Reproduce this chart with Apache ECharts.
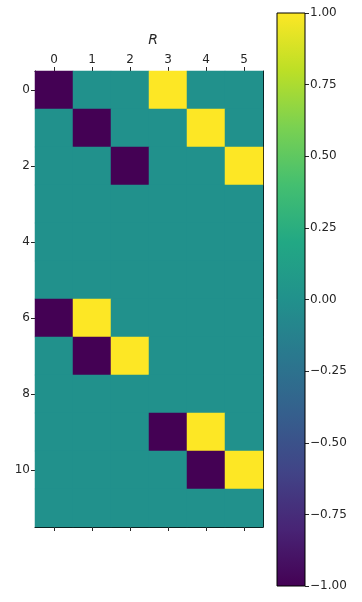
<!DOCTYPE html>
<html>
<head>
<meta charset="utf-8">
<script src="https://cdn.jsdelivr.net/npm/echarts@6/dist/echarts.min.js"></script>
<style>html,body{margin:0;padding:0;background:#fff;}#c{width:362px;height:602px;}</style>
</head>
<body>
<div id="c"></div>
<script>
// ---- data ----
const colLabels = ['0', '1', '2', '3', '4', '5'];
const rowLabels = ['0', '1', '2', '3', '4', '5', '6', '7', '8', '9', '10', '11'];
const matrixR = [
  [-1, 0, 0, 1, 0, 0],
  [0, -1, 0, 0, 1, 0],
  [0, 0, -1, 0, 0, 1],
  [0, 0, 0, 0, 0, 0],
  [0, 0, 0, 0, 0, 0],
  [0, 0, 0, 0, 0, 0],
  [-1, 1, 0, 0, 0, 0],
  [0, -1, 1, 0, 0, 0],
  [0, 0, 0, 0, 0, 0],
  [0, 0, 0, -1, 1, 0],
  [0, 0, 0, 0, -1, 1],
  [0, 0, 0, 0, 0, 0]
];
const colorbarRange = [-1, 1];
const colorbarTicks = [-1.00, -0.75, -0.50, -0.25, 0.00, 0.25, 0.50, 0.75, 1.00];
const viridis = ['#440154','#482475','#414487','#355f8d','#2a788e','#21918c','#22a884','#44bf70','#7ad151','#bddf26','#fde725'];

// ---- build ----
const cells = [];
matrixR.forEach((row, r) => row.forEach((v, c) => cells.push([c, r, v])));
const font = 'DejaVu Sans';
const txt = '#262626';
const axLine = {show: true, lineStyle: {color: '#000', width: 1}};
const fmtTick = v => v.toFixed(2).replace('-', '\u2212');

const chart = echarts.init(document.getElementById('c'), null, {renderer: 'canvas'});
chart.setOption({
  animation: false,
  backgroundColor: '#fff',
  textStyle: {fontFamily: font},
  title: {
    text: 'R', left: 148, top: 28, textAlign: 'center',
    textStyle: {fontFamily: font, fontStyle: 'italic', fontWeight: 'normal', fontSize: 14, color: txt}
  },
  grid: [
    {left: 35, top: 71, width: 228, height: 456},
    {left: 277, top: 13, width: 28, height: 573}
  ],
  xAxis: [
    {type: 'category', data: colLabels, gridIndex: 0, position: 'top',
     axisLine: axLine, axisTick: {show: true, alignWithLabel: true, length: 4, lineStyle: {color: txt}},
     axisLabel: {fontFamily: font, fontSize: 12, color: txt, margin: 5}, splitLine: {show: false}},
    {type: 'category', data: colLabels, gridIndex: 0, position: 'bottom',
     axisLine: axLine, axisTick: {show: true, alignWithLabel: true, length: 4, lineStyle: {color: txt}},
     axisLabel: {show: false}, splitLine: {show: false}},
    {type: 'category', data: ['cb'], gridIndex: 1, show: false}
  ],
  yAxis: [
    {type: 'category', data: rowLabels, gridIndex: 0, inverse: true, position: 'left',
     axisLine: axLine, axisTick: {show: true, alignWithLabel: true, interval: 1, length: 4, lineStyle: {color: txt}},
     axisLabel: {interval: 1, fontFamily: font, fontSize: 12, color: txt, margin: 5}, splitLine: {show: false}},
    {type: 'category', data: rowLabels, gridIndex: 0, inverse: true, position: 'right',
     axisLine: axLine, axisTick: {show: false}, axisLabel: {show: false}, splitLine: {show: false}},
    {type: 'value', gridIndex: 1, position: 'right', min: colorbarRange[0], max: colorbarRange[1], interval: 0.25,
     axisLine: {show: false}, axisTick: {show: true, length: 4, lineStyle: {color: txt}},
     axisLabel: {fontFamily: font, fontSize: 12, color: txt, margin: 5, formatter: v => {
       const t = colorbarTicks.find(x => Math.abs(x - v) < 1e-9);
       return t === undefined ? '' : fmtTick(t);
     }},
     splitLine: {show: false}}
  ],
  visualMap: {
    show: false, type: 'continuous', min: colorbarRange[0], max: colorbarRange[1],
    seriesIndex: 0, inRange: {color: viridis}
  },
  series: [
    {type: 'heatmap', xAxisIndex: 0, yAxisIndex: 0, data: cells, itemStyle: {borderWidth: 0}},
    {type: 'custom', xAxisIndex: 2, yAxisIndex: 2, data: [[0, colorbarRange[0], colorbarRange[1]]],
     renderItem: (params, api) => {
       const top = api.coord([api.value(0), api.value(2)]);
       const bot = api.coord([api.value(0), api.value(1)]);
       const w = api.size([1, 0])[0];
       const stops = viridis.slice().reverse().map((c, i, a) => ({offset: i / (a.length - 1), color: c}));
       return {
         type: 'rect',
         shape: {x: top[0] - w / 2, y: top[1], width: w, height: bot[1] - top[1]},
         style: {fill: new echarts.graphic.LinearGradient(0, 0, 0, 1, stops), stroke: '#000', lineWidth: 1}
       };
     }}
  ]
});
</script>
</body>
</html>
